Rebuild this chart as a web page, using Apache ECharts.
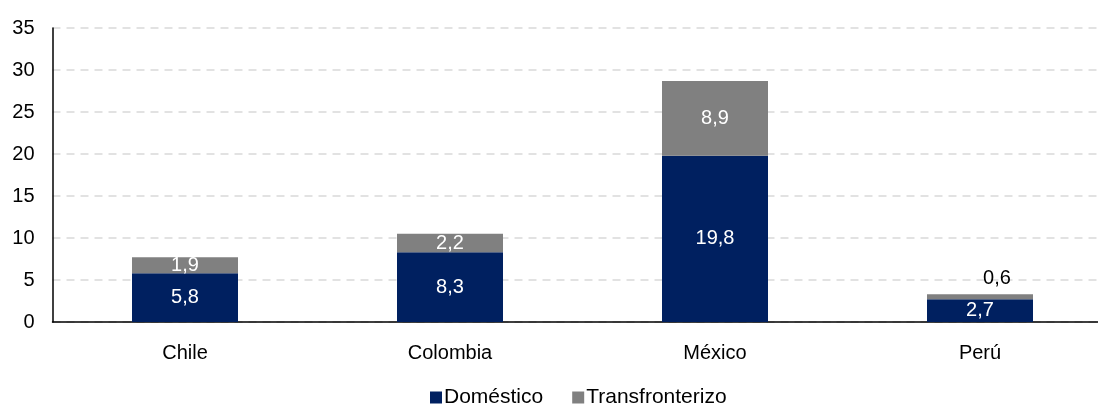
<!DOCTYPE html>
<html><head><meta charset="utf-8">
<script src="https://cdn.jsdelivr.net/npm/echarts@6/dist/echarts.min.js"></script>
<style>html,body{margin:0;padding:0;background:#fff}#c{width:1098px;height:408px}</style>
</head><body><div id="c"></div>
<script>
const categories = ['Chile', 'Colombia', 'México', 'Perú'];
const domestico = [5.8, 8.3, 19.8, 2.7];
const transfronterizo = [1.9, 2.2, 8.9, 0.6];
const yTicks = [0, 5, 10, 15, 20, 25, 30, 35];

const fmt = v => String(v).replace('.', ',');
const font = '"Liberation Sans", Arial, sans-serif';
const FS = 20;

const chart = echarts.init(document.getElementById('c'), null, {renderer: 'canvas'});
chart.setOption({
  animation: false,
  textStyle: {fontFamily: font},
  grid: {left: 52.5, top: 28, width: 1060, height: 294, containLabel: false, outerBoundsMode: 'none'},
  legend: {
    top: 385, left: 425, padding: [2, 5, 2, 5], itemWidth: 12, itemHeight: 12, itemGap: 29,
    icon: 'rect',
    textStyle: {fontFamily: font, fontSize: 21, color: '#000', padding: [0,0,0,-3]},
    data: ['Doméstico', 'Transfronterizo']
  },
  xAxis: {
    type: 'category', data: categories,
    axisLine: {lineStyle: {color: '#000', width: 1.5}},
    axisTick: {show: false},
    axisLabel: {color: '#000', fontSize: FS, margin: 21, fontFamily: font}
  },
  yAxis: {
    type: 'value', min: yTicks[0], max: yTicks[yTicks.length - 1], interval: 5,
    axisLine: {show: true, lineStyle: {color: '#000', width: 1.5}},
    axisTick: {show: false},
    axisLabel: {color: '#000', fontSize: FS, margin: 18, fontFamily: font},
    splitLine: {lineStyle: {color: '#d9d9d9', width: 1.5, type: [8, 6]}}
  },
  series: [
    {
      name: 'Doméstico', type: 'bar', stack: 't', barWidth: '40%',
      itemStyle: {color: '#002060'},
      label: {show: true, position: 'inside', color: '#fff', fontSize: FS, fontFamily: font,
        formatter: p => fmt(p.value)},
      data: domestico
    },
    {
      name: 'Transfronterizo', type: 'bar', stack: 't', barWidth: '40%',
      itemStyle: {color: '#808080'},
      label: {show: true, position: 'inside', color: '#fff', fontSize: FS, fontFamily: font,
        formatter: p => fmt(p.value)},
      data: transfronterizo.map((v, i) => i === 3 ? {value: v, label: {position: 'top', color: '#000', distance: 6, offset: [17, 0]}} : v)
    }
  ]
});
</script></body></html>
